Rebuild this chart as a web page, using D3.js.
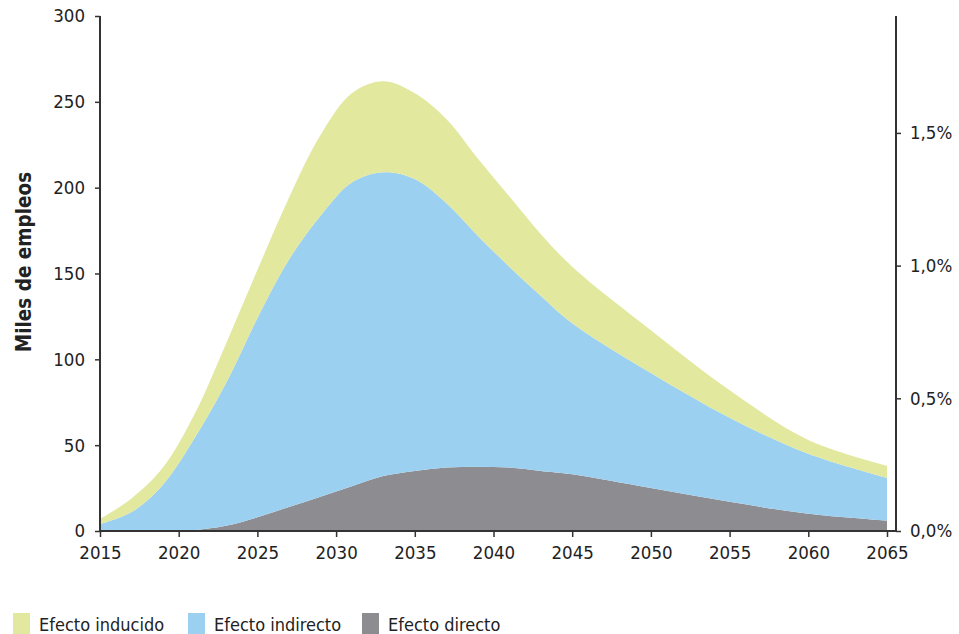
<!DOCTYPE html>
<html>
<head>
<meta charset="utf-8">
<style>
  body { margin: 0; background: #fff; }
  text { font-family: "DejaVu Sans Condensed", "DejaVu Sans", sans-serif; fill: #222; }
</style>
</head>
<body>
<script src="https://d3js.org/d3.v7.min.js"></script>
<script>
  // data (miles de empleos)
  const years     = [2015, 2017, 2019, 2021, 2023, 2025, 2027, 2029, 2031, 2033, 2035, 2037, 2039, 2041, 2043, 2045, 2050, 2055, 2060, 2065]
  const directo   = [0, 0, 0, 0.5, 3, 8, 14, 20, 26, 32, 35, 37, 37.5, 37, 35, 33, 25, 17, 10, 6]
  const indirecto = [4, 11, 27, 53.5, 83, 116, 144, 163.5, 177, 177, 170, 154, 134.5, 117, 102, 88, 67, 49, 35, 25]
  const inducido  = [3, 8, 10, 14, 23, 28, 36, 47, 52, 53, 50, 49, 45, 41, 36, 33, 25, 16, 8, 7]

  const series = ['directo', 'indirecto', 'inducido']
  const colors = { inducido: '#e2e89e', indirecto: '#9cd0f0', directo: '#8d8c91' }
  const xTicks = d3.range(2015, 2066, 5)
  const yTicks = [0, 50, 100, 150, 200, 250, 300]
  const pctTicks = [0, 0.5, 1.0, 1.5]
  const legend = [
    { key: 'inducido', label: 'Efecto inducido' },
    { key: 'indirecto', label: 'Efecto indirecto' },
    { key: 'directo', label: 'Efecto directo' }
  ]

  const width = 959
  const height = 634

  const data = years.map((yr, i) => ({
    year: yr, directo: directo[i], indirecto: indirecto[i], inducido: inducido[i]
  }))

  const svg = d3.select('body').append('svg')
    .attr('width', width)
    .attr('height', height)

  const x = d3.scaleLinear().domain([2015, 2065]).range([100, 887])
  const y = d3.scaleLinear().domain([0, 300]).range([531, 16])
  // right axis: 0,5% equals ~77 thousand jobs
  const yPct = d3.scaleLinear().domain([0, 300 / 77.3 * 0.5]).range([531, 16])

  const stack = d3.stack().keys(series)
  const layers = stack(data)

  const area = d3.area()
    .x(d => x(d.data.year))
    .y0(d => y(d[0]))
    .y1(d => y(d[1]))
    .curve(d3.curveCatmullRom)

  svg.append('g').selectAll('path')
    .data(layers)
    .enter().append('path')
    .attr('d', area)
    .attr('fill', d => colors[d.key])

  // left axis
  const yAxis = d3.axisLeft(y).tickValues(yTicks).tickSize(5).tickPadding(10)
  const gy = svg.append('g')
    .attr('transform', 'translate(100,0)')
    .call(yAxis)
  gy.select('.domain').remove()
  gy.append('line').attr('x1', 0).attr('x2', 0).attr('y1', 16).attr('y2', 531)

  // right axis
  const pAxis = d3.axisRight(yPct).tickValues(pctTicks).tickSize(5).tickPadding(9)
    .tickFormat(d => d3.format('.1f')(d).replace('.', ',') + '%')
  const gp = svg.append('g')
    .attr('transform', 'translate(896,0)')
    .call(pAxis)
  gp.select('.domain').remove()
  gp.append('line').attr('x1', 0).attr('x2', 0).attr('y1', 16).attr('y2', 531)

  // bottom axis
  const xAxis = d3.axisBottom(x).tickValues(xTicks).tickSize(6).tickPadding(9)
    .tickFormat(d3.format('d'))
  const gx = svg.append('g')
    .attr('transform', 'translate(0,531)')
    .call(xAxis)
  gx.select('.domain').remove()
  gx.append('line').attr('x1', 100).attr('x2', 896).attr('y1', 0).attr('y2', 0)

  svg.selectAll('g line')
    .attr('stroke', '#333')
  svg.selectAll('.tick line').attr('stroke-width', 1.5)
  gy.select(':scope > line').attr('stroke-width', 2)
  gp.select(':scope > line').attr('stroke-width', 2)
  gx.select(':scope > line').attr('stroke-width', 2)
  svg.selectAll('.tick text')
    .attr('font-size', 18.5)
    .attr('font-family', '"DejaVu Sans", sans-serif')
    .attr('fill', '#222')

  // y title
  svg.append('text')
    .attr('transform', 'translate(31,262) rotate(-90)')
    .attr('text-anchor', 'middle')
    .attr('font-size', 20.5)
    .attr('font-weight', 'bold')
    .text('Miles de empleos')

  // legend
  const legX = [13, 188, 362]
  const lg = svg.append('g').selectAll('g')
    .data(legend)
    .enter().append('g')
    .attr('transform', (d, i) => `translate(${legX[i]},613)`)
  lg.append('rect')
    .attr('width', 17).attr('height', 21)
    .attr('fill', d => colors[d.key])
  lg.append('text')
    .attr('x', 26).attr('y', 18)
    .attr('font-size', 18)
    .text(d => d.label)
</script>
</body>
</html>
